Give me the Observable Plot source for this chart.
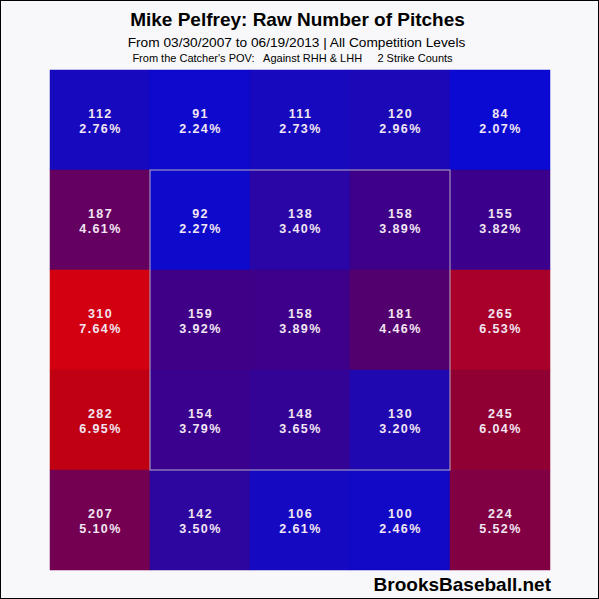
<!DOCTYPE html>
<html>
<head>
<meta charset="utf-8">
<script src="https://cdn.jsdelivr.net/npm/d3@7"></script>
<script src="https://cdn.jsdelivr.net/npm/@observablehq/plot@0.6"></script>
<style>
  html, body { margin: 0; padding: 0; background: #ffffff; }
  #wrap { position: relative; width: 599px; height: 599px; background: #f8f8fa; overflow: hidden;
          font-family: "Liberation Sans", Arial, sans-serif; }
  #frame { position: absolute; left: 0; top: 0; width: 599px; height: 599px; box-sizing: border-box;
           border: 1px solid #000; pointer-events: none; }
  .t { position: absolute; left: 0; width: 599px; text-align: center; color: #000; white-space: pre; }
  #title { top: 8px; font-size: 19px; line-height: 24px; font-weight: bold; width: 595px; }
  #sub1 { top: 34px; font-size: 13.7px; line-height: 17px; width: 593px; }
  #sub2 { top: 52px; font-size: 11px; line-height: 13px; width: 585px; }
  #mark { position: absolute; top: 574px; left: 0; width: 551px; text-align: right; font-size: 19px;
          line-height: 22px; font-weight: bold; color: #000; }
  #plot { position: absolute; left: 0; top: 64px; }
  #plot svg text { letter-spacing: 1.4px; }
</style>
</head>
<body>
<div id="wrap">
  <div class="t" id="title">Mike Pelfrey: Raw Number of Pitches</div>
  <div class="t" id="sub1">From 03/30/2007 to 06/19/2013 | All Competition Levels</div>
  <div class="t" id="sub2">From the Catcher's POV:   Against RHH &amp; LHH     2 Strike Counts</div>
  <div id="plot"></div>
  <div id="mark">BrooksBaseball.net</div>
  <div id="frame"></div>
</div>
<script>
// Pitch counts by zone, rows top to bottom, columns left to right (catcher's view)
const counts = [
  [112, 91, 111, 120, 84],
  [187, 92, 138, 158, 155],
  [310, 159, 158, 181, 265],
  [282, 154, 148, 130, 245],
  [207, 142, 106, 100, 224]
];
const percents = [
  [2.76, 2.24, 2.73, 2.96, 2.07],
  [4.61, 2.27, 3.40, 3.89, 3.82],
  [7.64, 3.92, 3.89, 4.46, 6.53],
  [6.95, 3.79, 3.65, 3.20, 6.04],
  [5.10, 3.50, 2.61, 2.46, 5.52]
];
const colorDomain = [84, 130, 158, 181, 187, 245, 265, 282, 310];
const colorRange = ["#0a0ad2", "#2008b0", "#3e0088", "#52006e", "#640060", "#900032", "#a8002a", "#c00012", "#d20010"];
// strike zone spans the middle 3x3 cells
const strikeZone = [{x1: 1, x2: 4, y1: 1, y2: 4}];

const cells = [];
counts.forEach((row, r) => row.forEach((c, col) => {
  cells.push({row: r, col, count: c, pct: percents[r][col]});
}));

const chart = Plot.plot({
  width: 599,
  height: 512,
  marginTop: 6,
  marginBottom: 6,
  marginLeft: 50,
  marginRight: 49,
  style: {background: "transparent", fontFamily: "'Liberation Sans', Arial, sans-serif"},
  x: {domain: [0, 5], axis: null},
  y: {domain: [0, 5], reverse: true, axis: null},
  color: {type: "linear", domain: colorDomain, range: colorRange, interpolate: "rgb"},
  marks: [
    Plot.rect(cells, {
      x1: "col", x2: d => d.col + 1, y1: "row", y2: d => d.row + 1,
      fill: "count", stroke: "count", strokeWidth: 0.5
    }),
    Plot.rect(strikeZone, {
      x1: "x1", x2: "x2", y1: "y1", y2: "y2",
      fill: "none", stroke: "#b4acc4", strokeWidth: 1
    }),
    Plot.text(cells, {
      x: d => d.col + 0.5, y: d => d.row + 0.5,
      text: d => `${d.count}\n${d.pct.toFixed(2)}%`,
      fill: "#f2e6f2", fontSize: 12.5, fontWeight: "bold", lineHeight: 1.2
    })
  ]
});
document.getElementById("plot").appendChild(chart);
</script>
</body>
</html>
